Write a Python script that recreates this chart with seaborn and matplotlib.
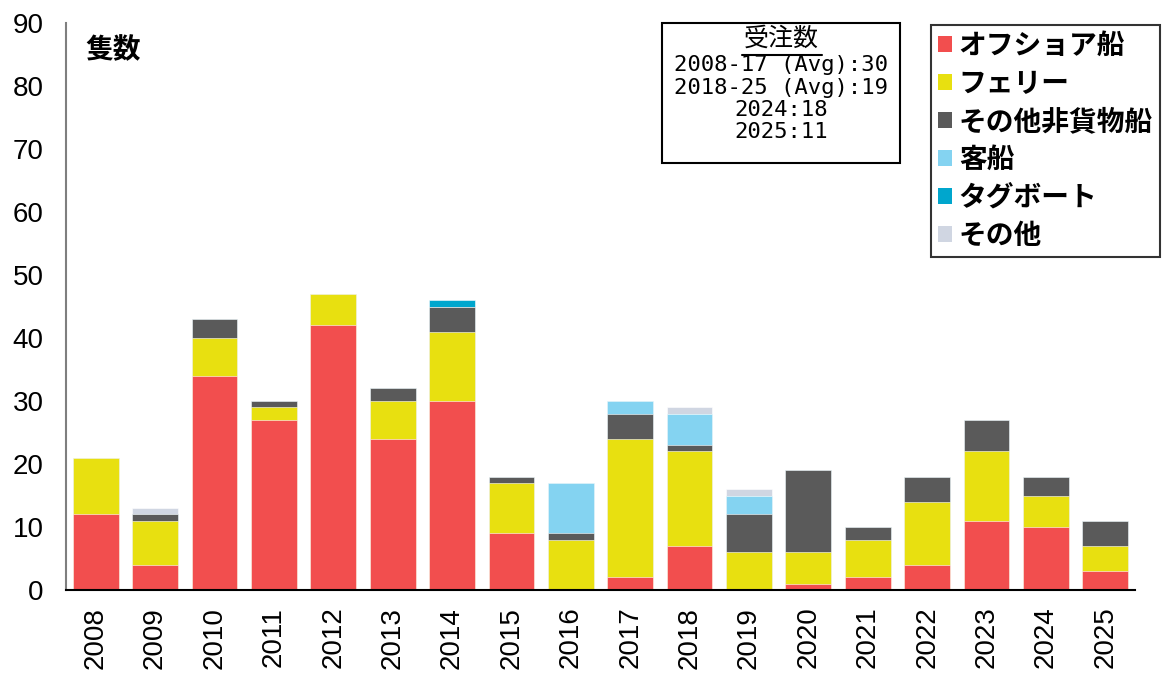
import matplotlib
matplotlib.use("Agg")
import numpy as np
import pandas as pd
import matplotlib.pyplot as plt
import seaborn as sns
from matplotlib.patches import Patch, Rectangle
from matplotlib.lines import Line2D

# Orders by year and ship type
years = [str(y) for y in range(2008, 2026)]
offshore = [12, 4, 34, 27, 42, 24, 30, 9, 0, 2, 7, 0, 1, 2, 4, 11, 10, 3]
ferry = [9, 7, 6, 2, 5, 6, 11, 8, 8, 22, 15, 6, 5, 6, 10, 11, 5, 4]
other_noncargo = [0, 1, 3, 1, 0, 2, 4, 1, 1, 4, 1, 6, 13, 2, 4, 5, 3, 4]
passenger = [0, 0, 0, 0, 0, 0, 0, 0, 8, 2, 5, 3, 0, 0, 0, 0, 0, 0]
tug = [0, 0, 0, 0, 0, 0, 1, 0, 0, 0, 0, 0, 0, 0, 0, 0, 0, 0]
others = [0, 1, 0, 0, 0, 0, 0, 0, 0, 0, 1, 1, 0, 0, 0, 0, 0, 0]

series_names = ["オフショア船", "フェリー", "その他非貨物船", "客船", "タグボート", "その他"]
series_values = [offshore, ferry, other_noncargo, passenger, tug, others]
series_colors = ["#F24E4E", "#E8E010", "#5A5A5A", "#84D3F1", "#00A6CD", "#D0D6E2"]

summary_title = "受注数"
summary_lines = ["2008-17 (Avg):30", "2018-25 (Avg):19", "2024:18", "2025:11"]

sns.set_theme(style="white")
plt.rcParams["font.family"] = ["Noto Sans CJK JP", "DejaVu Sans"]
plt.rcParams["text.color"] = "black"
plt.rcParams["xtick.color"] = "black"
plt.rcParams["ytick.color"] = "black"

fig = plt.figure(figsize=(11.62, 6.75), dpi=100)
ax = fig.add_axes([66 / 1162, 85 / 675, (1135 - 66) / 1162, (590 - 23) / 675])

df = pd.DataFrame({name: vals for name, vals in zip(series_names, series_values)}, index=years)
cum = df.cumsum(axis=1)

# Stacked bars: draw cumulative totals from the top layer down
for name, color in reversed(list(zip(series_names, series_colors))):
    sns.barplot(x=years, y=cum[name].values, color=color, saturation=1,
                width=0.77, ax=ax, edgecolor="white", linewidth=0.4)

ax.set_ylim(0, 90)
ax.set_xlim(-0.5, 17.5)
ax.set_yticks(range(0, 91, 10))
ax.set_xlabel("")
ax.set_ylabel("")
ax.tick_params(axis="y", labelsize=20, length=0, pad=16, labelcolor="black")
ax.tick_params(axis="x", labelsize=20, length=0, pad=12, rotation=90, labelcolor="black")
for lab in ax.get_yticklabels() + ax.get_xticklabels():
    lab.set_family(["Liberation Sans", "DejaVu Sans"])
for s in ["top", "right"]:
    ax.spines[s].set_visible(False)
ax.spines["left"].set_color("#7f7f7f")
ax.spines["left"].set_linewidth(1.5)
ax.spines["bottom"].set_color("black")
ax.spines["bottom"].set_linewidth(1.5)

fig.text(85 / 1162, 1 - 50 / 675, "隻数", fontsize=20, fontweight="bold", va="center", ha="left")

# Summary box
fig.patches.append(Rectangle((662 / 1162, 1 - 163 / 675), (900 - 662) / 1162, (163 - 23) / 675,
                             transform=fig.transFigure, fill=False, edgecolor="black", linewidth=1.5))
cx = 781 / 1162
fig.text(cx, 1 - 39 / 675, summary_title, fontsize=18, ha="center", va="center")
fig.lines.append(Line2D([742 / 1162, 822 / 1162], [1 - 55 / 675, 1 - 55 / 675],
                        transform=fig.transFigure, color="black", linewidth=1.5))
mono = ["DejaVu Sans Mono", "Noto Sans CJK JP"]
for i, line in enumerate(summary_lines):
    fig.text(cx, 1 - (65 + 22.5 * i) / 675, line, fontsize=16, ha="center", va="center",
             family=mono)

handles = [Patch(facecolor=c, edgecolor="none") for c in series_colors]
leg = fig.legend(handles, series_names, loc="upper right",
                 bbox_to_anchor=(1160 / 1162, 1 - 25 / 675),
                 prop={"size": 20, "weight": "bold"}, frameon=True, fancybox=False,
                 edgecolor="black", handlelength=0.5, handleheight=0.5,
                 handletextpad=0.25, labelspacing=0.36, borderpad=0.25, borderaxespad=0,
                 labelcolor="black")
leg.get_frame().set_linewidth(1.5)

fig.savefig("out.png", dpi=100)
